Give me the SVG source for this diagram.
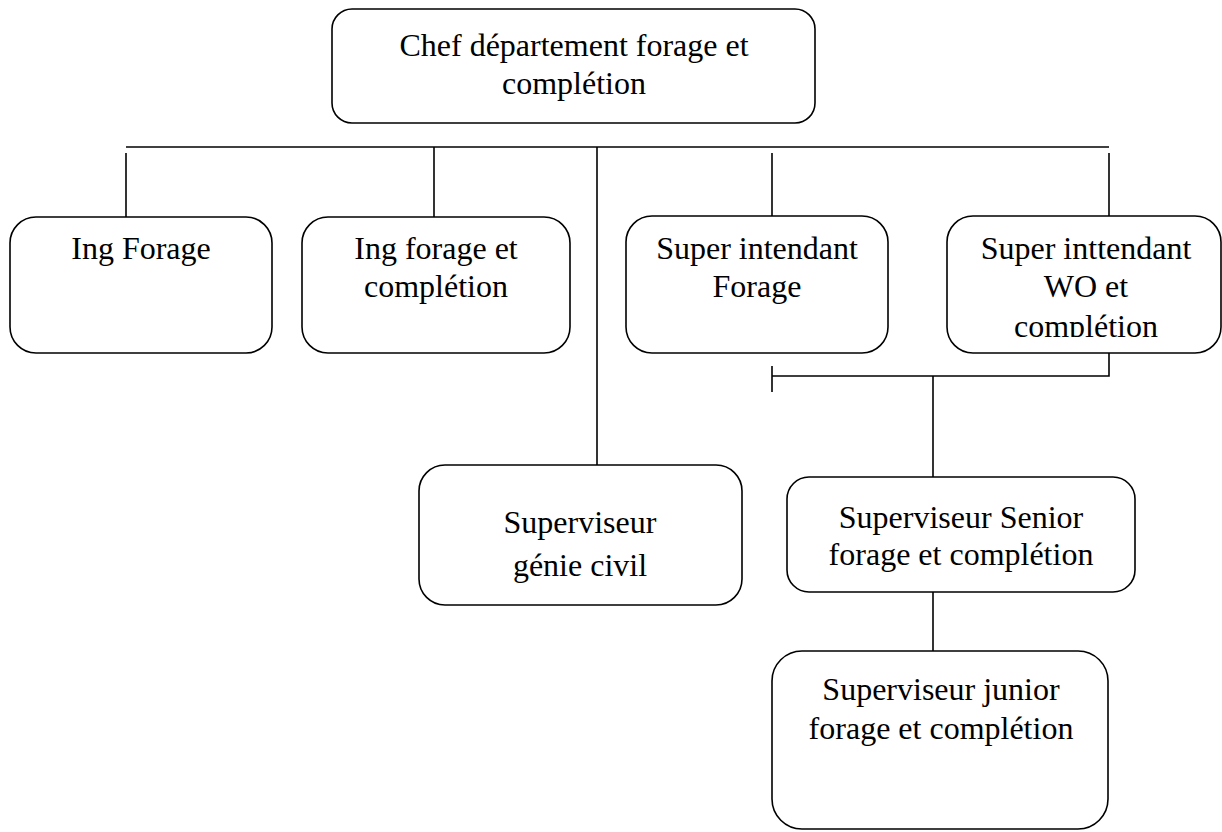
<svg xmlns="http://www.w3.org/2000/svg" width="1222" height="832" viewBox="0 0 1222 832">
<defs>
<style>
.box{fill:#fff;stroke:#000;stroke-width:1.6}
.ln{stroke:#000;stroke-width:1.6;fill:none}
text{font-family:"Liberation Serif","Times New Roman",serif;font-size:32px;fill:#000;text-anchor:middle}
</style>
<clipPath id="clipWO"><rect x="947" y="215" width="275" height="122"/></clipPath>
</defs>
<rect width="1222" height="832" fill="#fff"/>
<g id="connectors">
<line class="ln" x1="126" y1="147" x2="1109" y2="147"/>
<line class="ln" x1="126" y1="153" x2="126" y2="217"/>
<line class="ln" x1="434" y1="147" x2="434" y2="217"/>
<line class="ln" x1="597" y1="147" x2="597" y2="465"/>
<line class="ln" x1="772" y1="153" x2="772" y2="216"/>
<line class="ln" x1="1109" y1="153" x2="1109" y2="216"/>
<polyline class="ln" points="1109,353 1109,376 772,376"/>
<line class="ln" x1="772" y1="366" x2="772" y2="392"/>
<line class="ln" x1="933" y1="376" x2="933" y2="477"/>
<line class="ln" x1="933" y1="592" x2="933" y2="651"/>
</g>
<g id="chef">
<rect class="box" x="332" y="9" width="483" height="114" rx="20"/>
<text x="574" y="56">Chef département forage et</text>
<text x="574" y="94">complétion</text>
</g>
<g id="ing-forage">
<rect class="box" x="10" y="217" width="262" height="136" rx="26"/>
<text x="141" y="259">Ing Forage</text>
</g>
<g id="ing-forage-completion">
<rect class="box" x="302" y="217" width="268" height="136" rx="26"/>
<text x="436" y="259">Ing forage et</text>
<text x="436" y="297">complétion</text>
</g>
<g id="super-intendant-forage">
<rect class="box" x="626" y="216" width="262" height="137" rx="26"/>
<text x="757" y="259">Super intendant</text>
<text x="757" y="297">Forage</text>
</g>
<g id="super-intendant-wo">
<rect class="box" x="947" y="216" width="274" height="137" rx="26"/>
<text x="1086" y="259">Super inttendant</text>
<text x="1086" y="297">WO et</text>
<text x="1086" y="337" clip-path="url(#clipWO)">complétion</text>
</g>
<g id="superviseur-genie-civil">
<rect class="box" x="419" y="465" width="323" height="140" rx="26"/>
<text x="580" y="533">Superviseur</text>
<text x="580" y="576">génie civil</text>
</g>
<g id="superviseur-senior">
<rect class="box" x="787" y="477" width="348" height="115" rx="22"/>
<text x="961" y="528">Superviseur Senior</text>
<text x="961" y="565">forage et complétion</text>
</g>
<g id="superviseur-junior">
<rect class="box" x="772" y="651" width="336" height="178" rx="30"/>
<text x="941" y="700">Superviseur junior</text>
<text x="941" y="739">forage et complétion</text>
</g>
</svg>
